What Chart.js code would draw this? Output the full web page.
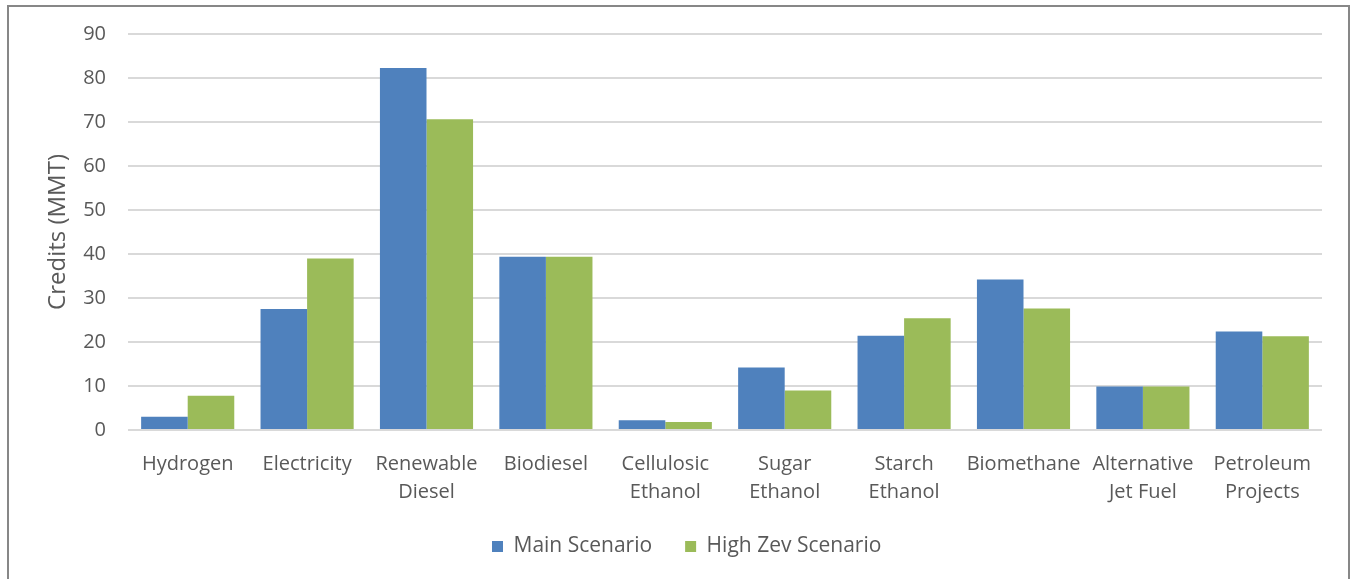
<!DOCTYPE html>
<html>
<head>
<meta charset="utf-8">
<script src="https://cdn.jsdelivr.net/npm/chart.js@4/dist/chart.umd.min.js"></script>
<style>
  html, body { margin: 0; padding: 0; background: #ffffff; }
  #wrap { position: relative; width: 1352px; height: 579px; }
</style>
</head>
<body>
<div id="wrap"><canvas id="chart"></canvas></div>
<script>
// Fuel pathway categories (multi-line labels)
const categories = [
  ['Hydrogen'],
  ['Electricity'],
  ['Renewable', 'Diesel'],
  ['Biodiesel'],
  ['Cellulosic', 'Ethanol'],
  ['Sugar', 'Ethanol'],
  ['Starch', 'Ethanol'],
  ['Biomethane'],
  ['Alternative', 'Jet Fuel'],
  ['Petroleum', 'Projects']
];

// Credits generated, in million metric tons
const mainScenario    = [3.0, 27.5, 82.3, 39.4, 2.2, 14.2, 21.4, 34.2, 9.9, 22.4];
const highZevScenario = [7.8, 39.0, 70.6, 39.4, 1.8,  9.0, 25.4, 27.6, 9.9, 21.3];

const seriesNames = ['Main Scenario', 'High Zev Scenario'];
const yTicks = { min: 0, max: 90, step: 10 };
const yTitle = 'Credits (MMT)';

const FONT = '"Open Sans", "DejaVu Sans", sans-serif';
const TEXT = '#595959';

// Outer frame around the chart
const framePlugin = {
  id: 'frame',
  beforeDraw(chart) {
    const ctx = chart.ctx;
    ctx.save();
    ctx.fillStyle = '#ffffff';
    ctx.fillRect(0, 0, chart.width, chart.height);
    ctx.strokeStyle = '#878787';
    ctx.lineWidth = 2;
    ctx.strokeRect(8, 6, 1341, 620);
    ctx.restore();
  }
};

// Place the legend row just under the category labels, centred under the bars
const legendPlacePlugin = {
  id: 'legendPlace',
  afterLayout(chart) {
    const lg = chart.legend;
    if (!lg) return;
    const dy = 503 - lg.top;
    lg.top += dy; lg.bottom += dy;
    const pad = lg.options.labels.padding;
    const x0 = (lg.left + pad + lg.right - lg.lineWidths[0]) / 2;
    const dx = 492 - x0;
    lg.left += dx; lg.right += dx;
  }
};

new Chart(document.getElementById('chart'), {
  type: 'bar',
  data: {
    labels: categories,
    datasets: [
      { label: seriesNames[0], data: mainScenario, backgroundColor: '#4F81BD' },
      { label: seriesNames[1], data: highZevScenario, backgroundColor: '#9BBB59' }
    ]
  },
  options: {
    responsive: true,
    maintainAspectRatio: false,
    animation: false,
    devicePixelRatio: 1,
    layout: { padding: { top: 34, right: 30, left: 0, bottom: 2 } },
    datasets: {
      bar: { categoryPercentage: 0.78, barPercentage: 1.0, borderWidth: 0 }
    },
    scales: {
      x: {
        grid: { display: false },
        border: { display: false },
        ticks: {
          color: TEXT,
          font: { family: FONT, size: 20, lineHeight: 1.4 },
          padding: 12,
          maxRotation: 0,
          autoSkip: false
        },
        afterFit(scale) { scale.height = 83; }
      },
      y: {
        min: yTicks.min,
        max: yTicks.max,
        border: { display: false },
        grid: { color: '#d9d9d9', lineWidth: 2, drawTicks: false },
        ticks: {
          stepSize: yTicks.step,
          color: TEXT,
          font: { family: FONT, size: 20 },
          padding: 22
        },
        title: {
          display: true,
          text: yTitle,
          color: TEXT,
          font: { family: FONT, size: 24, weight: 'normal' },
          padding: { top: 44, bottom: 0 }
        },
        afterFit(scale) { scale.width = 128; }
      }
    },
    plugins: {
      legend: {
        position: 'bottom',
        labels: {
          color: TEXT,
          font: { family: FONT, size: 21 },
          boxWidth: 11,
          boxHeight: 11,
          padding: 33
        }
      },
      tooltip: { enabled: false }
    }
  },
  plugins: [framePlugin, legendPlacePlugin]
});
</script>
</body>
</html>
